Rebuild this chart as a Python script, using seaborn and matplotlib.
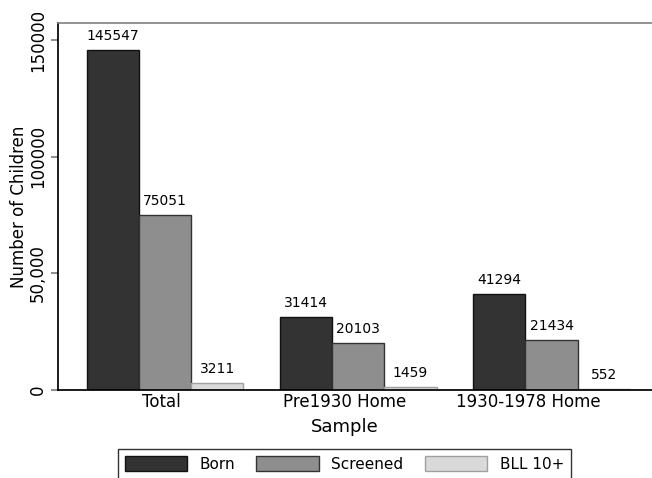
import matplotlib
matplotlib.use('Agg')
import matplotlib.pyplot as plt
import matplotlib.transforms as mtransforms
import pandas as pd
import seaborn as sns

samples = ['Total', 'Pre1930 Home', '1930-1978 Home']
groups = ['Born', 'Screened', 'BLL 10+']
born = [145547, 31414, 41294]
screened = [75051, 20103, 21434]
bll = [3211, 1459, 552]
colors = ['#333333', '#8e8e8e', '#d9d9d9']
edges = ['#111111', '#333333', '#a0a0a0']

rows = []
for i, s in enumerate(samples):
    for g, vals in zip(groups, [born, screened, bll]):
        rows.append({'Sample': s, 'Group': g, 'Count': vals[i]})
df = pd.DataFrame(rows)

sns.set_theme(style='white')
plt.rcParams['font.family'] = ['DejaVu Sans']
plt.rcParams['text.color'] = 'black'
plt.rcParams['axes.labelcolor'] = 'black'
plt.rcParams['xtick.color'] = 'black'
plt.rcParams['ytick.color'] = 'black'

fig = plt.figure(figsize=(6.52, 4.78), dpi=100)
ax = fig.add_axes([0.089, 0.184, 0.911, 0.768])

sns.barplot(data=df, x='Sample', y='Count', hue='Group', order=samples, hue_order=groups,
            palette=colors, width=0.81, linewidth=1, saturation=1, ax=ax, legend=False)

# edge colours per series, value labels on top
for cont, ec in zip(ax.containers, edges):
    for p in cont:
        p.set_edgecolor(ec)
    ax.bar_label(cont, fmt='%d', padding=5, fontsize=10, color='black')

ax.set_xlim(-0.554, 2.52)
ax.set_ylim(0, 157300)
ax.set_yticks([0, 50000, 100000, 150000])
ax.set_yticklabels(['0', '50,000', '100000', '150000'], rotation=90, va='center', fontsize=12)
ax.tick_params(axis='x', length=0, labelsize=12, pad=2)
ax.tick_params(axis='y', length=5, color='#808080', labelcolor='black', left=True, pad=3)
ax.set_xlabel('Sample', fontsize=13, labelpad=1)
ax.set_ylabel('Number of Children', fontsize=12, labelpad=1)
ax.xaxis.set_label_coords(0.482, -0.075)

# the original's category labels sit a little left of the bar groups
for lab, dx in zip(ax.get_xticklabels(), [-4, -14, -23]):
    lab.set_transform(lab.get_transform() + mtransforms.ScaledTranslation(dx / 100, 0, fig.dpi_scale_trans))

ax.spines['right'].set_visible(False)
ax.spines['top'].set_color('#808080')
ax.spines['top'].set_linewidth(1.2)
ax.spines['left'].set_color('black')
ax.spines['bottom'].set_color('black')

handles = [plt.Rectangle((0, 0), 1, 1, facecolor=c, edgecolor=e, linewidth=1) for c, e in zip(colors, edges)]
leg = fig.legend(handles, groups, loc='upper center', bbox_to_anchor=(0.528, 0.061), ncol=3,
                 frameon=True, fancybox=False, edgecolor='black', fontsize=11,
                 handlelength=4.1, handleheight=1.2, columnspacing=1.4, borderpad=0.45,
                 borderaxespad=0)
leg.get_frame().set_linewidth(1)

fig.savefig('out.png', dpi=100)
